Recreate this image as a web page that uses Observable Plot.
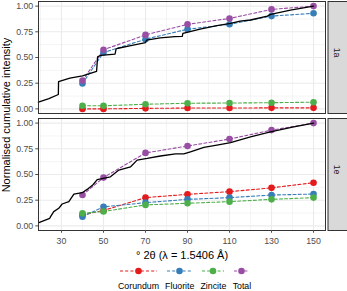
<!DOCTYPE html>
<html><head><meta charset="utf-8">
<script src="https://cdn.jsdelivr.net/npm/d3@7"></script>
<script src="https://cdn.jsdelivr.net/npm/@observablehq/plot@0.6"></script>
<style>
body{margin:0;background:#fff;font-family:"Liberation Sans",Arial,sans-serif;}
#wrap{position:relative;width:347px;height:291px;overflow:hidden;}
#ytitle{position:absolute;left:6px;top:115px;transform:translate(-50%,-50%) rotate(-90deg);white-space:nowrap;font-size:11px;color:#000;}
#legend{position:absolute;left:118px;top:264px;display:flex;gap:6px;}
.item{display:flex;flex-direction:column;align-items:center;}
.item span{font-size:8.8px;line-height:11px;margin-top:3px;color:#000;white-space:nowrap}
</style></head><body>
<div id="wrap"><div id="chart"></div><div id="ytitle">Normalised cumulative intensity</div><div id="legend"></div></div>
<script>
// ---- data ----
const samples = ["1a", "1e"];
const phases = ["Corundum", "Fluorite", "Zincite", "Total"];
const colors = ["#E41A1C", "#377EB8", "#4DAF4A", "#984EA3"];
const angles = [40, 50, 70, 90, 110, 130, 150];

const corundum1a = [0.0, 0.0, 0.005, 0.008, 0.008, 0.01, 0.01];
const fluorite1a = [0.248, 0.548, 0.678, 0.775, 0.823, 0.903, 0.93];
const zincite1a  = [0.03, 0.03, 0.045, 0.055, 0.057, 0.06, 0.065];
const total1a    = [0.275, 0.575, 0.72, 0.823, 0.88, 0.968, 1.0];

const corundum1e = [0.107, 0.15, 0.275, 0.307, 0.333, 0.37, 0.42];
const fluorite1e = [0.09, 0.185, 0.226, 0.258, 0.275, 0.30, 0.31];
const zincite1e  = [0.122, 0.14, 0.204, 0.22, 0.236, 0.258, 0.275];
const total1e    = [0.30, 0.47, 0.71, 0.777, 0.845, 0.932, 1.0];

const pattern1aX = [19, 24, 28.5, 28.6, 34, 40, 46.7, 47.2, 48.6, 55.5, 56, 57, 63, 70, 70.5, 77, 84, 87.5, 87.8, 96, 104, 110.5, 115, 120, 128, 129.6, 139, 150];
const pattern1aY = [0.065, 0.1, 0.14, 0.265, 0.3, 0.322, 0.365, 0.506, 0.52, 0.532, 0.583, 0.59, 0.615, 0.645, 0.67, 0.69, 0.703, 0.705, 0.734, 0.777, 0.81, 0.833, 0.855, 0.865, 0.903, 0.92, 0.96, 1.0];

const pattern1eX = [19.2, 24.4, 24.8, 26.3, 28.7, 30.3, 33.5, 35.9, 39.9, 42.2, 45, 47, 53.3, 57.3, 62.9, 66, 70.8, 77.1, 84.3, 88.2, 91.4, 97.8, 104, 110.5, 120, 129.5, 140, 150];
const pattern1eY = [0.032, 0.074, 0.09, 0.139, 0.171, 0.213, 0.236, 0.31, 0.323, 0.355, 0.4, 0.45, 0.478, 0.543, 0.575, 0.64, 0.656, 0.68, 0.70, 0.70, 0.72, 0.763, 0.785, 0.81, 0.867, 0.915, 0.96, 1.0];

const majorX = [30, 50, 70, 90, 110, 130, 150];
const minorX = [20, 40, 60, 80, 100, 120, 140];
const majorY = [0, 0.25, 0.5, 0.75, 1];
const minorY = [0.125, 0.375, 0.625, 0.875];
const xTitle = "° 2θ (λ = 1.5406 Å)";

// ---- tables ----
const series = {
  "1a": [corundum1a, fluorite1a, zincite1a, total1a],
  "1e": [corundum1e, fluorite1e, zincite1e, total1e]
};
const phaseRows = [];
for (const s of samples) {
  series[s].forEach((vals, i) => {
    vals.forEach((v, j) => phaseRows.push({sample: s, phase: phases[i], angle: angles[j], value: v}));
  });
}
const patternRows = [];
pattern1aX.forEach((x, i) => patternRows.push({sample: "1a", angle: x, value: pattern1aY[i]}));
pattern1eX.forEach((x, i) => patternRows.push({sample: "1e", angle: x, value: pattern1eY[i]}));

const font = "Liberation Sans, Arial, sans-serif";
const chart = Plot.plot({
  width: 347, height: 262,
  marginLeft: 38, marginRight: 22, marginTop: 1, marginBottom: 32,
  style: {fontFamily: font, fontSize: "8.8px", color: "#4D4D4D", background: "transparent"},
  x: {domain: [19.05, 155.7], label: null},
  y: {domain: [-0.045, 1.045], label: null},
  fy: {domain: samples, paddingInner: 0.043, paddingOuter: 0, label: null, axis: null},
  color: {domain: phases, range: colors},
  marks: [
    Plot.ruleX(minorX, {stroke: "#EBEBEB", strokeWidth: 0.55}),
    Plot.ruleY(minorY, {stroke: "#EBEBEB", strokeWidth: 0.55}),
    Plot.ruleX(majorX, {stroke: "#EBEBEB", strokeWidth: 1.1}),
    Plot.ruleY(majorY, {stroke: "#EBEBEB", strokeWidth: 1.1}),
    Plot.line(phaseRows, {x: "angle", y: "value", z: "phase", stroke: "phase", fy: "sample", strokeDasharray: "3,2.2", strokeWidth: 1.1}),
    Plot.dot(phaseRows, {x: "angle", y: "value", fill: "phase", r: 3.3, fy: "sample"}),
    Plot.line(patternRows, {x: "angle", y: "value", z: "sample", fy: "sample", stroke: "#000", strokeWidth: 1.3}),
    Plot.frame({stroke: "#333333", strokeWidth: 1}),
    Plot.frame({fill: "#D9D9D9", stroke: "#333333", strokeWidth: 1, insetLeft: 289.5, insetRight: -30}),
    Plot.text(samples, {fy: d => d, text: d => d, frameAnchor: "right", dx: 11, rotate: 90, fontSize: 8.8, fill: "#1A1A1A"}),
    Plot.axisX({ticks: majorX, tickSize: 2.75, tickPadding: 4.5, label: null, fontSize: 8.8}),
    Plot.axisX({ticks: [], label: xTitle, labelAnchor: "center", labelArrow: "none", labelOffset: 28, fontSize: 11, color: "#000"}),
    Plot.axisY({ticks: majorY, tickFormat: d3.format(".2f"), tickSize: 2.75, tickPadding: 2.5, label: null, fontSize: 8.8})
  ]
});
document.getElementById("chart").appendChild(chart);

// ---- legend ----
const legend = document.getElementById("legend");
phases.forEach((p, i) => {
  const item = document.createElement("div");
  item.className = "item";
  const span = document.createElement("span");
  span.textContent = p;
  legend.appendChild(item);
  item.appendChild(span);
  const w = Math.max(span.offsetWidth, 18);
  const svg = d3.create("svg").attr("width", w).attr("height", 14);
  svg.append("line").attr("x1", 2).attr("x2", w - 2).attr("y1", 7).attr("y2", 7)
    .attr("stroke", colors[i]).attr("stroke-width", 1.1).attr("stroke-dasharray", "3,2.2");
  svg.append("circle").attr("cx", w / 2).attr("cy", 7).attr("r", 3.3).attr("fill", colors[i]);
  item.insertBefore(svg.node(), span);
});
</script>
</body></html>
